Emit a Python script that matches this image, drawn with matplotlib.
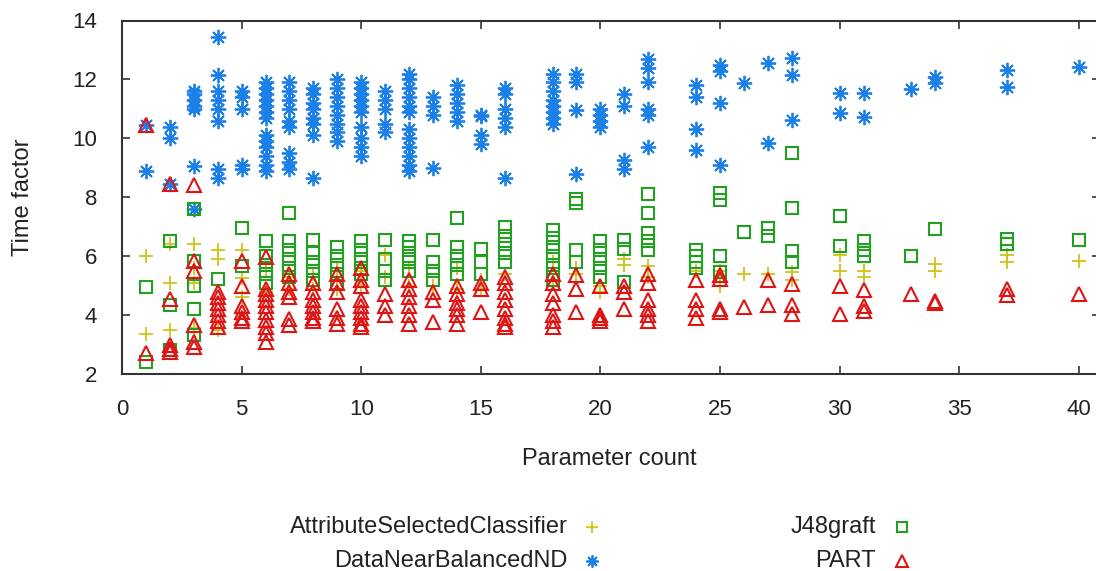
import matplotlib
matplotlib.use("Agg")
import matplotlib.pyplot as plt
from matplotlib.lines import Line2D

plt.rcParams['font.family'] = ['Liberation Sans', 'DejaVu Sans']

# valeurs : {nombre de parametres: [facteurs de temps]}
asc = {1: [6.0, 3.35], 2: [6.4, 5.1, 3.5], 3: [6.4, 5.6, 5.1, 3.55], 4: [6.2, 5.9, 3.5],
       5: [6.2, 5.25, 4.6], 6: [5.5, 4.8], 7: [5.3, 4.9], 8: [5.4, 4.9], 9: [5.6, 4.9],
       10: [5.5, 5.0], 11: [6.05, 5.3], 12: [5.6, 5.0], 13: [5.0], 14: [5.6, 4.9],
       15: [5.2, 4.9], 16: [5.4], 18: [5.8, 5.2], 19: [5.6, 5.4], 20: [5.0, 4.8],
       21: [5.9, 5.7], 22: [5.65, 5.3], 24: [5.5], 25: [5.5, 5.0], 26: [5.4], 27: [5.4],
       28: [5.45, 5.2], 30: [6.05, 5.5], 31: [5.5, 5.3], 34: [5.75, 5.5], 37: [6.05, 5.8],
       40: [5.85]}

dnb = {1: [10.45, 8.9], 2: [10.4, 10.0, 8.45], 3: [11.6, 11.5, 11.3, 11.1, 11.0, 9.05, 7.6],
       4: [13.43, 12.15, 11.6, 11.3, 11.0, 10.6, 8.95, 8.65], 5: [11.6, 11.4, 11.0, 9.1, 8.95],
       6: [11.9, 11.7, 11.5, 11.3, 11.1, 10.9, 10.7, 10.1, 9.9, 9.7, 9.4, 9.1, 8.9],
       7: [11.9, 11.6, 11.3, 11.0, 10.6, 10.4, 9.5, 9.2, 8.95],
       8: [11.7, 11.5, 11.2, 11.0, 10.7, 10.5, 10.1, 8.67],
       9: [12.0, 11.7, 11.4, 11.1, 10.8, 10.5, 10.2, 9.9],
       10: [11.9, 11.7, 11.5, 11.3, 11.1, 10.9, 10.4, 10.0, 9.7, 9.4],
       11: [11.6, 11.3, 11.0, 10.5, 10.2],
       12: [12.2, 12.0, 11.7, 11.4, 11.1, 10.9, 10.3, 10.0, 9.7, 9.4, 9.1, 8.9],
       13: [11.4, 11.1, 10.8, 9.0], 14: [11.8, 11.5, 11.2, 10.9, 10.6],
       15: [10.8, 10.75, 10.1, 9.8], 16: [11.7, 11.5, 11.0, 10.7, 10.4, 8.67],
       18: [12.2, 11.9, 11.6, 11.3, 11.1, 10.9, 10.7, 10.5], 19: [12.2, 11.9, 10.97, 8.78],
       20: [11.0, 10.8, 10.6, 10.4], 21: [11.5, 11.1, 9.25, 8.95],
       22: [12.7, 12.4, 11.9, 11.0, 10.8, 9.69], 24: [11.8, 11.4, 10.3, 9.6],
       25: [12.5, 12.3, 11.2, 9.11], 26: [11.88], 27: [12.55, 9.85], 28: [12.72, 12.15, 10.63],
       30: [11.54, 10.87], 31: [11.54, 10.73], 33: [11.67], 34: [12.08, 11.88],
       37: [12.31, 11.74], 40: [12.42]}

j48 = {1: [4.95, 2.4], 2: [6.5, 4.33, 2.82], 3: [7.6, 5.85, 5.0, 4.22, 3.32], 4: [5.23],
       5: [6.97, 5.68], 6: [6.5, 6.0, 5.7, 5.4, 5.1], 7: [7.48, 6.5, 6.2, 5.9, 5.6, 5.3],
       8: [6.55, 6.1, 5.8, 5.5, 5.2], 9: [6.3, 6.0, 5.7, 5.4, 5.1], 10: [6.5, 6.2, 5.9, 5.6, 5.4],
       11: [6.55, 5.9, 5.5, 5.2], 12: [6.5, 6.3, 6.0, 5.8, 5.5], 13: [6.55, 5.8, 5.5, 5.2],
       14: [7.3, 6.3, 6.0, 5.7, 5.4], 15: [6.24, 5.8, 5.4], 16: [7.0, 6.7, 6.4, 6.1, 5.8],
       18: [6.9, 6.6, 6.3, 6.0, 5.7, 5.4, 5.2], 19: [7.95, 7.8, 6.2, 5.8],
       20: [6.5, 6.2, 5.9, 5.6, 5.3], 21: [6.55, 6.24, 5.12],
       22: [8.1, 7.48, 6.8, 6.5, 6.2], 24: [6.2, 6.0, 5.8, 5.6],
       25: [8.15, 7.9, 6.02, 5.46], 26: [6.83], 27: [6.97, 6.7], 28: [9.5, 7.65, 6.19, 5.8],
       30: [7.35, 6.36], 31: [6.5, 6.2, 6.0], 33: [6.02], 34: [6.92], 37: [6.58, 6.4],
       40: [6.55]}

part = {1: [10.45, 2.7], 2: [8.45, 4.56, 3.0, 2.85, 2.75], 3: [8.4, 5.85, 5.5, 3.66, 3.1, 2.93],
        4: [4.8, 4.6, 4.4, 4.2, 4.0, 3.8, 3.6], 5: [5.85, 5.0, 4.3, 4.1, 3.9, 3.8],
        6: [5.96, 4.9, 4.7, 4.5, 4.3, 4.1, 3.85, 3.6, 3.4, 3.1],
        7: [5.4, 5.1, 4.8, 4.6, 3.88, 3.66], 8: [5.1, 4.8, 4.5, 4.3, 4.1, 3.9, 3.8],
        9: [5.4, 5.1, 4.8, 4.2, 3.9, 3.7], 10: [5.6, 5.2, 5.0, 4.5, 4.3, 4.1, 3.9, 3.7, 3.6],
        11: [4.7, 4.3, 4.0], 12: [5.2, 4.9, 4.6, 4.3, 4.0, 3.7], 13: [4.8, 4.5, 3.77],
        14: [5.0, 4.7, 4.4, 4.2, 4.0, 3.7], 15: [5.1, 4.9, 4.1],
        16: [5.3, 5.1, 4.8, 4.5, 4.2, 3.9, 3.7, 3.6], 18: [5.4, 5.1, 4.7, 4.4, 4.0, 3.8, 3.6],
        19: [5.35, 4.9, 4.1], 20: [5.0, 4.0, 3.9, 3.8], 21: [5.0, 4.8, 4.22],
        22: [5.4, 5.1, 4.5, 4.2, 4.0, 3.8], 24: [5.2, 4.5, 4.2, 3.9], 25: [5.35, 5.23, 4.2, 4.1],
        26: [4.28], 27: [5.18, 4.33], 28: [5.06, 4.33, 4.05], 30: [4.98, 4.05],
        31: [4.84, 4.3, 4.15], 33: [4.73], 34: [4.47, 4.4], 37: [4.9, 4.67], 40: [4.73]}

noms = ['AttributeSelectedClassifier', 'DataNearBalancedND', 'J48graft', 'PART']
couleurs = ['#cfc31a', '#1a7fe6', '#22a022', '#dd1515']
x_ticks = [0, 5, 10, 15, 20, 25, 30, 35, 40]
y_ticks = [2, 4, 6, 8, 10, 12, 14]

styles = [dict(marker='+', ms=10, mew=1.3, mfc='none'),
          dict(marker=(8, 2, 0), ms=11, mew=1.3, mfc='none'),
          dict(marker='s', ms=9, mew=1.5, mfc='none'),
          dict(marker='^', ms=10, mew=1.5, mfc='none')]


def aplatir(d):
    xs, ys = [], []
    for k, v in d.items():
        for val in v:
            xs.append(k)
            ys.append(val)
    return xs, ys


fig = plt.figure(figsize=(10.96, 5.71), dpi=100)
ax = fig.add_axes([122 / 1096, 197 / 571, 978 / 1096, 353.5 / 571])

for serie, nom, c, st in zip([asc, dnb, j48, part], noms, couleurs, styles):
    xs, ys = aplatir(serie)
    ax.plot(xs, ys, ls='none', color=c, mec=c, **st)

ax.set_xlim(0, 978 / 23.92)
ax.set_ylim(2, 14)
ax.set_xticks(x_ticks)
ax.set_yticks(y_ticks)
ax.tick_params(direction='in', top=True, right=True, length=6, width=1.2,
               labelsize=16, color='#333333', labelcolor='#222222')
ax.tick_params(axis='x', pad=18)
ax.tick_params(axis='y', pad=18)
for s in ax.spines.values():
    s.set_linewidth(1.5)
    s.set_color('#333333')

ax.set_xlabel('Parameter count', fontsize=17, color='#222222')
ax.set_ylabel('Time factor', fontsize=17, color='#222222')
ax.yaxis.set_label_coords(-0.09, 0.5)
ax.xaxis.set_label_coords(0.5 - 0.002, -0.21)

# legende a la gnuplot : texte a droite aligne, symbole apres
pos = [(568, 592, 527), (568, 592, 561), (876, 902, 527), (876, 902, 561)]
for (xt, xm, yy), nom, c, st in zip(pos, noms, couleurs, styles):
    fig.text(xt / 1096, 1 - yy / 571, nom, ha='right', va='center', fontsize=17, color='#222222')
    st2 = dict(st)
    st2['ms'] = st2['ms'] * 0.8
    fig.add_artist(Line2D([xm / 1096], [1 - yy / 571], transform=fig.transFigure,
                          ls='none', color=c, mec=c, **st2))

fig.savefig('out.png', dpi=100)
